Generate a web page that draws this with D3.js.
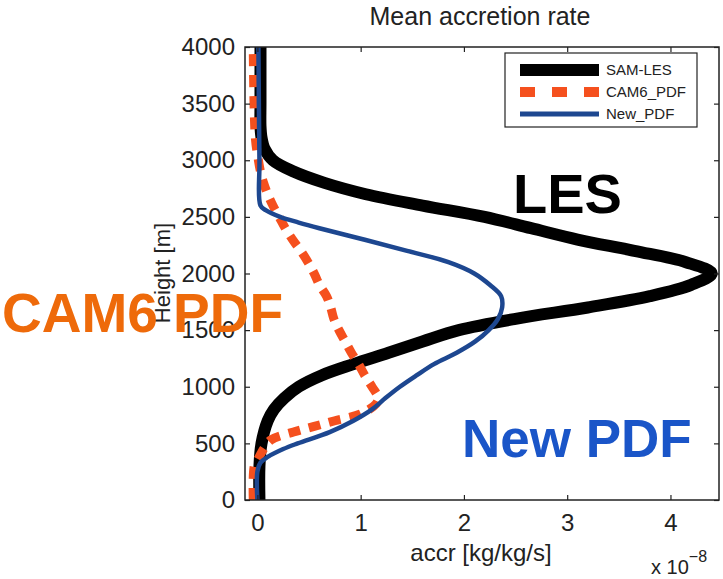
<!DOCTYPE html>
<html>
<head>
<meta charset="utf-8">
<script src="https://cdn.jsdelivr.net/npm/d3@7"></script>
<style>
  html, body { margin: 0; padding: 0; background: #fff; }
  svg { display: block; font-family: "Liberation Sans", Arial, Helvetica, sans-serif; }
</style>
</head>
<body>
<svg id="chart" width="723" height="579"></svg>
<script>
// ---- data (height in m, accretion rate in 1e-8 kg/kg/s) ----
const lesHeights = [0, 300, 500, 700, 800, 900, 1000, 1100, 1200, 1300, 1400, 1500, 1600, 1700, 1800, 1900, 2000, 2100, 2200, 2300, 2400, 2500, 2600, 2700, 2800, 2900, 3000, 3100, 3200, 3300, 3500, 4000];
const lesValues  = [0.02, 0.02, 0.04, 0.1, 0.16, 0.26, 0.4, 0.62, 0.93, 1.27, 1.6, 1.95, 2.5, 3.2, 3.8, 4.2, 4.4, 4.15, 3.65, 3.1, 2.65, 2.2, 1.6, 1.05, 0.65, 0.35, 0.15, 0.07, 0.04, 0.03, 0.03, 0.03];

const camHeights = [0, 300, 350, 450, 530, 600, 650, 700, 760, 850, 900, 1000, 1100, 1200, 1300, 1400, 1500, 1600, 1700, 1800, 1900, 2000, 2100, 2200, 2300, 2400, 2500, 2600, 2700, 2800, 2900, 3000, 3200, 4000];
const camValues  = [-0.04, -0.03, 0.0, 0.06, 0.13, 0.35, 0.55, 0.75, 1.0, 1.15, 1.17, 1.11, 1.04, 0.98, 0.91, 0.85, 0.79, 0.74, 0.71, 0.67, 0.6, 0.55, 0.49, 0.42, 0.34, 0.27, 0.21, 0.15, 0.1, 0.06, 0.03, 0.01, -0.02, -0.04];

const newHeights = [0, 250, 330, 380, 450, 500, 600, 700, 800, 900, 1000, 1100, 1200, 1300, 1400, 1500, 1600, 1700, 1800, 1900, 2000, 2100, 2200, 2300, 2400, 2450, 2500, 2560, 2600, 3000, 4000];
const newValues  = [0.0, 0.0, 0.03, 0.1, 0.25, 0.39, 0.7, 0.93, 1.11, 1.24, 1.38, 1.54, 1.71, 1.93, 2.11, 2.24, 2.33, 2.37, 2.36, 2.25, 2.1, 1.85, 1.45, 1.03, 0.6, 0.4, 0.22, 0.08, 0.03, 0.02, 0.01];

const xTicks = [0, 1, 2, 3, 4];
const yTicks = [0, 500, 1000, 1500, 2000, 2500, 3000, 3500, 4000];
const legendLabels = ["SAM-LES", "CAM6_PDF", "New_PDF"];
const annotationLabels = ["LES", "CAM6 PDF", "New PDF"];

// ---- layout ----
const svg = d3.select("#chart");
const L = 245, R = 719, T = 47, B = 500;
const x = d3.scaleLinear().domain([-0.12, 4.47]).range([L, R]);
const y = d3.scaleLinear().domain([0, 4000]).range([B, T]);

svg.append("defs").append("clipPath").attr("id", "clip")
  .append("rect").attr("x", L).attr("y", T).attr("width", R - L).attr("height", B - T);

// title
svg.append("text").attr("x", 480).attr("y", 25).attr("text-anchor", "middle")
  .attr("font-size", 25).attr("fill", "#222").text("Mean accretion rate");

// lines
const mk = (hs, vs) => hs.map((h, i) => [h, vs[i]]);
const line = d3.line().x(d => x(d[1])).y(d => y(d[0])).curve(d3.curveCatmullRom.alpha(0.5));
const g = svg.append("g").attr("clip-path", "url(#clip)");
g.append("path").datum(mk(lesHeights, lesValues)).attr("d", line)
  .attr("fill", "none").attr("stroke", "#000").attr("stroke-width", 12).attr("stroke-linejoin", "round");
g.append("path").datum(mk(camHeights, camValues)).attr("d", line)
  .attr("fill", "none").attr("stroke", "#f5501e").attr("stroke-width", 9).attr("stroke-dasharray", "12,9");
g.append("path").datum(mk(newHeights, newValues)).attr("d", line)
  .attr("fill", "none").attr("stroke", "#1d4790").attr("stroke-width", 4.5).attr("stroke-linejoin", "round");

// axes box
svg.append("rect").attr("x", L).attr("y", T).attr("width", R - L).attr("height", B - T)
  .attr("fill", "none").attr("stroke", "#222").attr("stroke-width", 1.5);

const tl = 5;
const xb = svg.append("g").attr("transform", `translate(0,${B})`)
  .call(d3.axisBottom(x).tickValues(xTicks).tickSize(-tl).tickPadding(14).tickFormat(d3.format("d")));
const xt = svg.append("g").attr("transform", `translate(0,${T})`)
  .call(d3.axisTop(x).tickValues(xTicks).tickSize(-tl).tickFormat(""));
const yl = svg.append("g").attr("transform", `translate(${L},0)`)
  .call(d3.axisLeft(y).tickValues(yTicks).tickSize(-tl).tickPadding(10).tickFormat(d3.format("d")));
const yr = svg.append("g").attr("transform", `translate(${R},0)`)
  .call(d3.axisRight(y).tickValues(yTicks).tickSize(-tl).tickFormat(""));
[xb, xt, yl, yr].forEach(a => {
  a.select(".domain").remove();
  a.selectAll(".tick line").attr("stroke", "#222").attr("stroke-width", 1.2);
  a.selectAll("text").attr("font-size", 24).attr("fill", "#222").attr("font-family", "'Liberation Sans', Arial, sans-serif");
});

// axis labels
svg.append("text").attr("x", 481).attr("y", 561).attr("text-anchor", "middle")
  .attr("font-size", 24).attr("fill", "#222").text("accr [kg/kg/s]");
svg.append("text").attr("transform", "translate(170,273) rotate(-90)").attr("text-anchor", "middle")
  .attr("font-size", 22).attr("fill", "#222").text("Height [m]");
const exp = svg.append("text").attr("x", 651).attr("y", 574).attr("font-size", 20).attr("fill", "#222");
exp.append("tspan").text("x 10");
exp.append("tspan").attr("dy", -12).attr("font-size", 16).text("−8");

// legend
const lg = svg.append("g");
lg.append("rect").attr("x", 505).attr("y", 53).attr("width", 192).attr("height", 74)
  .attr("fill", "#fff").attr("stroke", "#222").attr("stroke-width", 1.2);
const legStyles = [
  { c: "#000", w: 12, dash: null },
  { c: "#f5501e", w: 10, dash: "15,17" },
  { c: "#1d4790", w: 5, dash: null }
];
legendLabels.forEach((lab, i) => {
  const yy = 70 + i * 22;
  const ln = lg.append("line").attr("x1", 520).attr("x2", 599).attr("y1", yy).attr("y2", yy)
    .attr("stroke", legStyles[i].c).attr("stroke-width", legStyles[i].w);
  if (legStyles[i].dash) ln.attr("stroke-dasharray", legStyles[i].dash);
  lg.append("text").attr("x", 606).attr("y", yy).attr("dy", "0.35em")
    .attr("font-size", 15).attr("fill", "#222").text(lab);
});

// annotations
svg.append("text").attr("x", 513).attr("y", 213).attr("font-size", 56).attr("font-weight", "bold")
  .attr("fill", "#000").text(annotationLabels[0]);
svg.append("text").attr("x", 2).attr("y", 332).attr("font-size", 55).attr("font-weight", "bold")
  .attr("fill", "#ee6a0a").text(annotationLabels[1]);
svg.append("text").attr("x", 462).attr("y", 457).attr("font-size", 53).attr("font-weight", "bold")
  .attr("fill", "#1a55c8").text(annotationLabels[2]);
</script>
</body>
</html>
